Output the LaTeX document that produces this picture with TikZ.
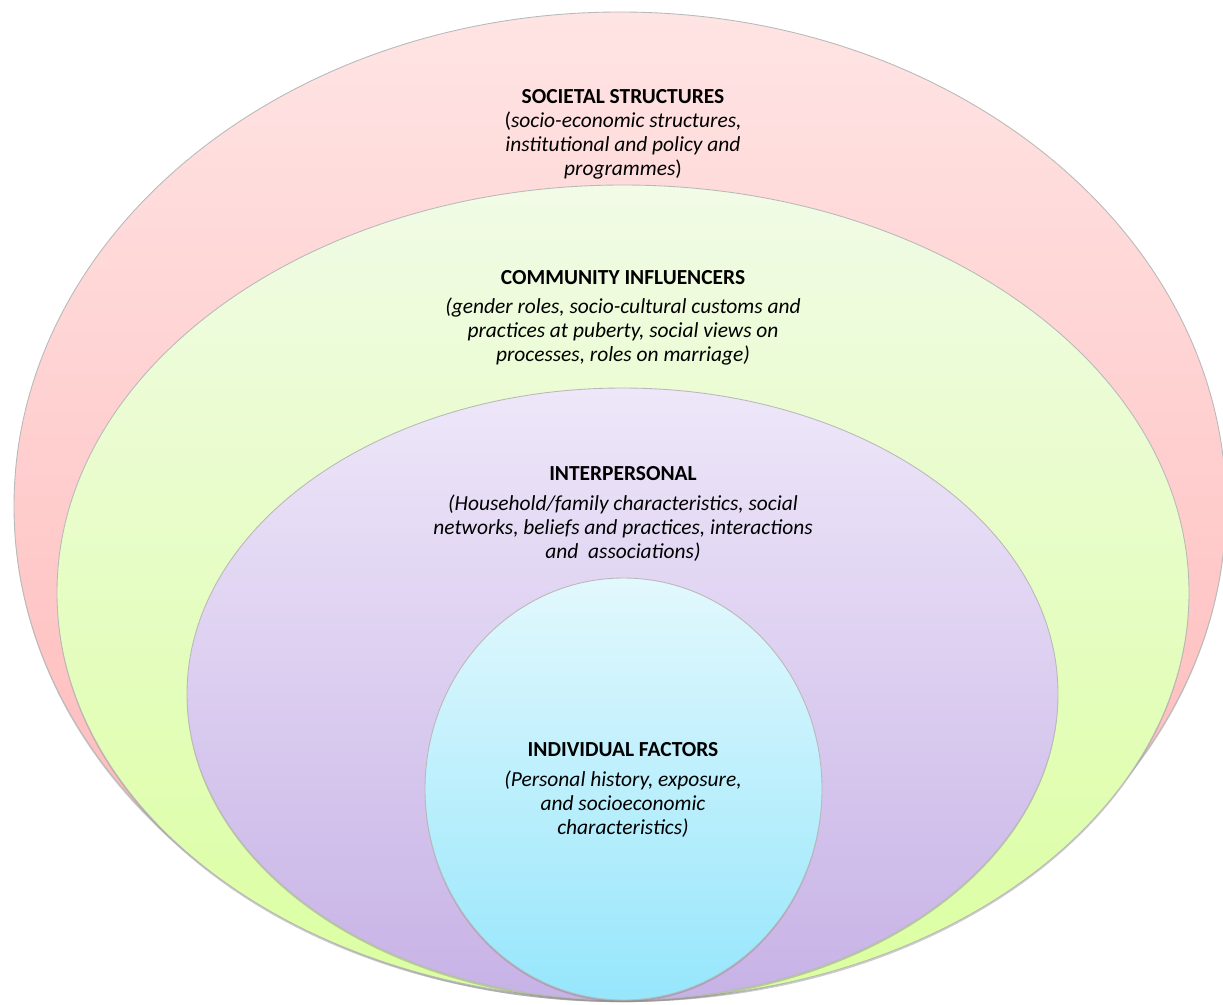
\documentclass[tikz,border=0pt]{standalone}
\usepackage{fontspec}
\setmainfont{Carlito}
\usetikzlibrary{shadows}

\definecolor{pinktop}{RGB}{255,228,228}
\definecolor{pinkbot}{RGB}{255,180,180}
\definecolor{greentop}{RGB}{241,251,230}
\definecolor{greenbot}{RGB}{219,255,160}
\definecolor{purpletop}{RGB}{238,231,249}
\definecolor{purplebot}{RGB}{199,178,230}
\definecolor{bluetop}{RGB}{226,248,253}
\definecolor{bluebot}{RGB}{150,230,252}

\tikzset{
  layer/.style={draw=gray!55, line width=0.5pt,
    drop shadow={shadow xshift=0pt, shadow yshift=-1.2pt, opacity=0.4}},
  layertext/.style={align=center, inner sep=0pt,
    font=\fontsize{12.2}{13.66}\selectfont}
}

\begin{document}
\begin{tikzpicture}[x=0.02cm,y=-0.02cm]
	\useasboundingbox (0,0) rectangle (1223,1004);
	% rings, outer to inner
	\path[layer, top color=pinktop, bottom color=pinkbot] (620,506) ellipse (606 and 494);
	\path[layer, top color=greentop, bottom color=greenbot] (623,592.5) ellipse (566 and 407.5);
	\path[layer, top color=purpletop, bottom color=purplebot] (622.5,694) ellipse (435.5 and 306);
	\path[layer, top color=bluetop, bottom color=bluebot] (623.5,789) ellipse (198.5 and 211);
	% texts
	\node[layertext] (societal) at (623,134) {\textbf{SOCIETAL STRUCTURES}\\
		(\textit{socio-economic structures,}\\
		\textit{institutional and policy and}\\
		\textit{programmes})};
	\node[layertext] (community) at (623,318) {\textbf{COMMUNITY INFLUENCERS}\\[3pt]
		\textit{(gender roles, socio-cultural customs and}\\
		\textit{practices at puberty, social views on}\\
		\textit{processes, roles on marriage)}};
	\node[layertext] (interpersonal) at (623,514) {\textbf{INTERPERSONAL}\\[3pt]
		\textit{(Household/family characteristics, social}\\
		\textit{networks, beliefs and practices, interactions}\\
		\textit{and\ \ associations)}};
	\node[layertext] (individual) at (623,790) {\textbf{INDIVIDUAL FACTORS}\\[3pt]
		\textit{(Personal history, exposure,}\\
		\textit{and socioeconomic}\\
		\textit{characteristics)}};
\end{tikzpicture}
\end{document}
